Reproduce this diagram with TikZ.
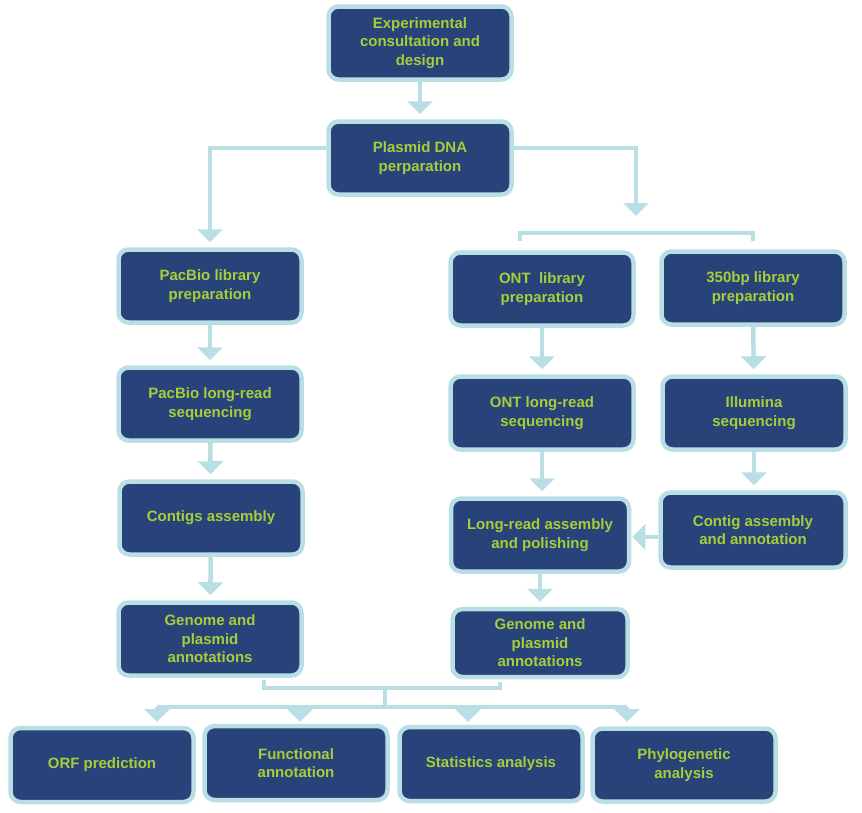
\documentclass[tikz,border=0pt]{standalone}
\usepackage{fontspec}
\setmainfont{Liberation Sans}
\usetikzlibrary{arrows.meta}
\definecolor{navy}{RGB}{39,67,122}
\definecolor{frame}{RGB}{185,222,228}
\definecolor{lime}{RGB}{166,206,57}

\begin{document}
\begin{tikzpicture}[x=1pt, y=-1pt,
    box/.style={draw=frame, line width=4.5pt, fill=navy, rounded corners=10pt,
        minimum width=183pt, minimum height=73pt, align=center, text=lime,
        font=\fontsize{15}{18.5}\selectfont\bfseries},
    link/.style={draw=frame, line width=4.5pt},
    arrow/.style={link, -{Triangle[width=25pt, length=13pt]}, shorten >=5pt}]
    \useasboundingbox (0,0) rectangle (862,812);

    % Draw the boxes
    \node[box] (exp) at (420,43) {Experimental\\consultation and\\design};
    \node[box] (plasmid) at (420,158) {Plasmid DNA\\perparation};
    \node[box] (paclib) at (210,286) {PacBio library\\preparation};
    \node[box] (ontlib) at (542,289) {ONT\ \ library\\preparation};
    \node[box] (illlib) at (753,288) {350bp library\\preparation};
    \node[box] (pacseq) at (210,404) {PacBio long-read\\sequencing};
    \node[box] (ontseq) at (542,413) {ONT long-read\\sequencing};
    \node[box] (illseq) at (754,413) {Illumina\\sequencing};
    \node[box] (contigs) at (211,518) {Contigs assembly};
    \node[box, minimum width=178pt] (lrasm) at (540,535) {Long-read assembly\\and polishing};
    \node[box, minimum width=185pt, minimum height=75pt] (ctgasm) at (753,530) {Contig assembly\\and annotation};
    \node[box] (genomel) at (210,639) {Genome and\\plasmid\\annotations};
    \node[box, minimum width=175pt, minimum height=68pt] (genomer) at (540,643) {Genome and\\plasmid\\annotations};
    \node[box, minimum height=74pt] (orf) at (102,765) {ORF prediction};
    \node[box, minimum height=74pt] (func) at (296,763) {Functional\\annotation};
    \node[box, minimum height=74pt] (stats) at (491,764) {Statistics analysis};
    \node[box, minimum height=73pt] (phylo) at (684,765) {Phylogenetic\\analysis};

    % Split points of the connectors
    \coordinate (split) at (636,226);
    \coordinate (brl) at (520,241);
    \coordinate (brr) at (753,241);
    \coordinate (joinl) at (264,680);
    \coordinate (joinr) at (500,682);
    \coordinate (stem) at (385,688);
    \coordinate (fan) at (385,707);

    % Top of the flow
    \draw[arrow] (exp) -- (plasmid);
    \draw[arrow] ([yshift=10pt]plasmid.west) -| (paclib.north);
    \draw[arrow] ([yshift=10pt]plasmid.east) -| ([yshift=5pt]split);
    \draw[link] (brl) |- ([yshift=8pt]brl -| split) -| (brr);

    % Left column
    \draw[arrow] (paclib) -- (pacseq);
    \draw[arrow] (pacseq) -- (contigs);
    \draw[arrow] (contigs) -- (genomel);

    % Middle and right columns
    \draw[arrow] (ontlib) -- (ontseq);
    \draw[arrow] (ontseq) -- (ontseq |- lrasm.north);
    \draw[arrow] (lrasm) -- (genomer);
    \draw[arrow] (illlib) -- (illseq);
    \draw[arrow] (illseq) -- (illseq |- ctgasm.north);
    \draw[arrow, shorten >=1pt] (ctgasm.west |- 0,537) -- (lrasm.east |- 0,537);

    % Bottom row
    \draw[link] (joinl) |- (stem) -| (joinr);
    \draw[link] (stem) -- (fan);
    \draw[link] (fan -| 157,0) -- (fan -| 627,0);
    \foreach \x in {157, 300, 468, 627}
        \draw[arrow, shorten >=0pt] (fan -| \x,0) -- (\x,722);
\end{tikzpicture}
\end{document}
